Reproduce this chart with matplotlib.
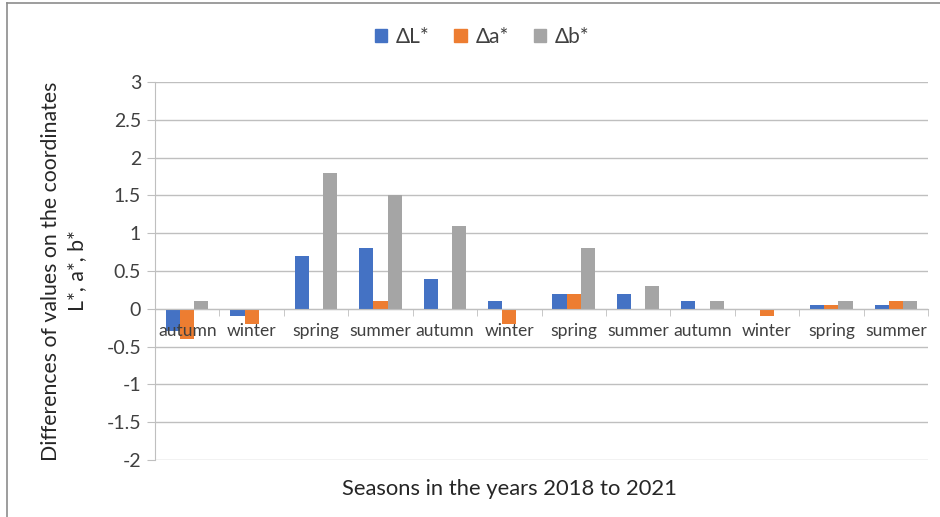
import matplotlib
matplotlib.use("Agg")
import matplotlib.pyplot as plt
import numpy as np
from matplotlib.patches import Patch
from matplotlib.lines import Line2D

plt.rcParams['font.family'] = ['Lato', 'DejaVu Sans']

seasons = ["autumn", "winter", "spring", "summer", "autumn", "winter",
           "spring", "summer", "autumn", "winter", "spring", "summer"]
dL = [-0.3, -0.1, 0.7, 0.8, 0.4, 0.1, 0.2, 0.2, 0.1, 0.0, 0.05, 0.05]
da = [-0.4, -0.2, 0.0, 0.1, 0.0, -0.2, 0.2, 0.0, 0.0, -0.1, 0.05, 0.1]
db = [0.1, 0.0, 1.8, 1.5, 1.1, 0.0, 0.8, 0.3, 0.1, 0.0, 0.1, 0.1]
series_names = ["ΔL*", "Δa*", "Δb*"]
colors = ["#4472C4", "#ED7D31", "#A5A5A5"]
yticks = [-2, -1.5, -1, -0.5, 0, 0.5, 1, 1.5, 2, 2.5, 3]

W, H = 940, 517
fig = plt.figure(figsize=(W / 100, H / 100), dpi=100)
ax = fig.add_axes([155 / W, 1 - 460 / H, 773 / W, 378 / H])

x = np.arange(len(seasons))
w = 0.22
for k, (vals, c) in enumerate(zip([dL, da, db], colors)):
    ax.bar(x + (k - 1) * w, vals, width=w, color=c, zorder=3)

ax.set_xlim(-0.5, len(seasons) - 0.5)
ax.set_ylim(-2, 3)
ax.set_yticks(yticks)
ax.set_yticklabels([f"{v:g}" for v in yticks], fontsize=14, color="#404040")
ax.grid(axis="y", color="#BFBFBF", linewidth=1.0, zorder=0)
ax.tick_params(axis="y", length=6, color="#BFBFBF", pad=4)

for s in ["top", "right"]:
    ax.spines[s].set_visible(False)
ax.spines["left"].set_color("#BFBFBF")
ax.spines["bottom"].set_position(("data", 0))
ax.spines["bottom"].set_color("#BFBFBF")
ax.spines["bottom"].set_zorder(4)

ax.set_xticks(x)
ax.set_xticklabels([])
ax.tick_params(axis="x", which="major", length=0)
ax.set_xticks(np.arange(-0.5, len(seasons)), minor=True)
ax.tick_params(axis="x", which="minor", length=5, color="#BFBFBF", direction="out")

for i, s in enumerate(seasons):
    ax.annotate(s, xy=(x[i], 0), xytext=(0, -16), textcoords="offset points",
                ha="center", va="center", fontsize=12.6, color="#404040", zorder=6)

fig.text(64 / W, 1 - 271 / H,
         "Differences of values on the coordinates\nL*, a*, b*",
         rotation=90, ha="center", va="center", multialignment="center",
         fontsize=15.3, color="#262626", linespacing=1.4)
fig.text(510 / W, 1 - 489 / H, "Seasons in the years 2018 to 2021",
         ha="center", va="center", fontsize=15.8, color="#262626")

handles = [Patch(facecolor=c, edgecolor=c) for c in colors]
fig.legend(handles, series_names, loc="center", bbox_to_anchor=(482 / W, 1 - 37 / H),
           ncol=3, frameon=False, fontsize=15, handlelength=0.6, handleheight=0.6,
           handletextpad=0.4, columnspacing=1.2, labelcolor="#404040")

# outer chart frame (left and top edges visible)
fig.add_artist(Line2D([7 / W, 7 / W], [0, 1 - 3 / H], transform=fig.transFigure,
                      color="#8C8C8C", linewidth=1.2))
fig.add_artist(Line2D([7 / W, 1], [1 - 3 / H, 1 - 3 / H], transform=fig.transFigure,
                      color="#8C8C8C", linewidth=1.2))

fig.savefig("out.png", dpi=100)
